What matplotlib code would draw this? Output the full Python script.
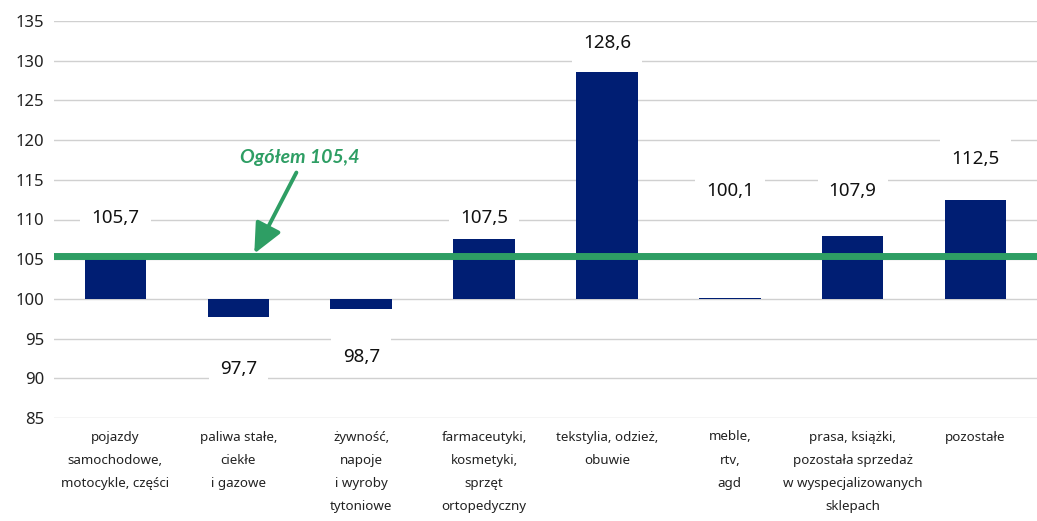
import matplotlib
matplotlib.use("Agg")
import matplotlib.pyplot as plt

categories = [
    "pojazdy\nsamochodowe,\nmotocykle, części",
    "paliwa stałe,\nciekłe\ni gazowe",
    "żywność,\nnapoje\ni wyroby\ntytoniowe",
    "farmaceutyki,\nkosmetyki,\nsprzęt\nortopedyczny",
    "tekstylia, odzież,\nobuwie",
    "meble,\nrtv,\nagd",
    "prasa, książki,\npozostała sprzedaż\nw wyspecjalizowanych\nsklepach",
    "pozostałe",
]
values = [105.7, 97.7, 98.7, 107.5, 128.6, 100.1, 107.9, 112.5]
value_labels = ["105,7", "97,7", "98,7", "107,5", "128,6", "100,1", "107,9", "112,5"]
total = 105.4
total_label = "Ogółem 105,4"
yticks = [85, 90, 95, 100, 105, 110, 115, 120, 125, 130, 135]

# layout: data-space positions of the value labels
label_pos = [110.2, 91.2, 92.7, 110.2, 132.2, 113.6, 113.6, 117.6]

plt.rcParams['font.family'] = ['Noto Sans', 'DejaVu Sans']

fig = plt.figure(figsize=(10.37, 5.21), dpi=100)
ax = fig.add_axes([54/1037, 103/521, 1 - 54/1037, (418-21)/521])

navy = "#001E73"
green = "#2E9E64"

x = list(range(len(values)))
ax.bar(x, [v - 100 for v in values], bottom=100, width=0.5, color=navy, zorder=3)

ax.set_xlim(-0.5, len(values) - 0.5)
ax.set_ylim(85, 135)
ax.set_yticks(yticks)
ax.set_yticklabels([str(t) for t in yticks], fontsize=12, color="#222222")
ax.yaxis.grid(True, color="#d0d0d0", linewidth=1, zorder=0)
ax.set_axisbelow(True)
for s in ax.spines.values():
    s.set_visible(False)
ax.tick_params(axis='y', length=0, pad=7)
ax.tick_params(axis='x', length=0, pad=9)
ax.set_xticks(x)
ax.set_xticklabels(categories, fontsize=9.6, color="#222222", linespacing=2.02, va='top')

for xi, lab, yp in zip(x, value_labels, label_pos):
    ax.text(xi, yp, lab, ha='center', va='center', fontsize=13.5, color="#111111", zorder=5,
            bbox=dict(boxstyle='square,pad=0.6', facecolor='white', edgecolor='none'))

ax.axhline(total, color=green, linewidth=5.0, zorder=4)

ax.annotate(total_label, xy=(1.13, total + 0.3), xytext=(1.5, 117.8),
            ha='center', va='center', fontsize=14, fontweight='bold', fontstyle='italic',
            family=['Lato', 'DejaVu Sans'],
            color=green, zorder=6,
            arrowprops=dict(arrowstyle='-|>,head_length=1.3,head_width=0.6', color=green,
                            linewidth=2.8, shrinkA=3, shrinkB=0,
                            relpos=(0.5, 0.0)))

fig.savefig("out.png", dpi=100)
